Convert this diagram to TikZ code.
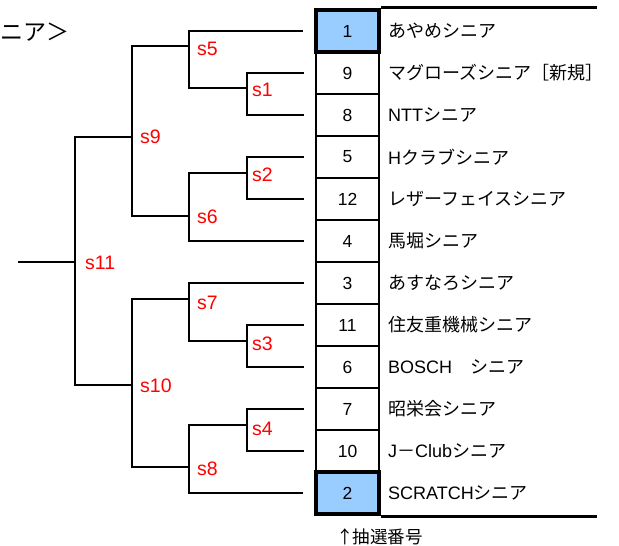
\documentclass[tikz,border=0pt]{standalone}
\usepackage{fontspec}
\setmainfont{Liberation Sans}
\newfontfamily\jpfont{Noto Sans CJK JP}
\definecolor{seedblue}{HTML}{99CCFF}

\begin{document}
\begin{tikzpicture}[x=1pt, y=-1pt,
    numbox/.style={draw, line width=2.7pt, minimum width=63pt, minimum height=42pt, inner sep=0pt, font=\fontsize{17.5}{17.5}\selectfont},
    seedbox/.style={numbox, fill=seedblue, line width=4.5pt},
    team/.style={anchor=west, inner sep=0pt, font=\jpfont\fontsize{18}{18}\selectfont},
    game/.style={anchor=west, inner sep=0pt, text=red, font=\fontsize{19.5}{19.5}\selectfont},
    bracket/.style={line width=1.6pt}]
        \useasboundingbox (0, 0) rectangle (619, 546);

        \node[anchor=west, inner sep=0pt, font=\jpfont\fontsize{23}{23}\selectfont] at (0, 32) (title) {ニア＞};

        % number boxes, one row every 42
        \node[numbox]  at (347.5, 31 + 1 * 42)   (b2)  {9};
        \node[numbox]  at (347.5, 31 + 2 * 42)   (b3)  {8};
        \node[numbox]  at (347.5, 31 + 3 * 42)   (b4)  {5};
        \node[numbox]  at (347.5, 31 + 4 * 42)   (b5)  {12};
        \node[numbox]  at (347.5, 31 + 5 * 42)   (b6)  {4};
        \node[numbox]  at (347.5, 31 + 6 * 42)   (b7)  {3};
        \node[numbox]  at (347.5, 31 + 7 * 42)   (b8)  {11};
        \node[numbox]  at (347.5, 31 + 8 * 42)   (b9)  {6};
        \node[numbox]  at (347.5, 31 + 9 * 42)   (b10) {7};
        \node[numbox]  at (347.5, 31 + 10 * 42)  (b11) {10};
        \node[seedbox] at (347.5, 31 + 0 * 42)   (b1)  {1};
        \node[seedbox] at (347.5, 31 + 11 * 42)  (b12) {2};

        \draw[line width=2.7pt] (b1.north east) -- ++(216, 0);
        \draw[line width=2.7pt] (b12.south east) -- ++(216, 0);

        % team names
        \node[team] at (388, 31 + 0 * 42)   (t1)  {あやめシニア};
        \node[team] at (388, 31 + 1 * 42)   (t2)  {マグローズシニア［新規］};
        \node[team] at (388, 31 + 2 * 42)   (t3)  {{\rmfamily NTT}シニア};
        \node[team] at (388, 31 + 3 * 42)   (t4)  {{\rmfamily H}クラブシニア};
        \node[team] at (388, 31 + 4 * 42)   (t5)  {レザーフェイスシニア};
        \node[team] at (388, 31 + 5 * 42)   (t6)  {馬堀シニア};
        \node[team] at (388, 31 + 6 * 42)   (t7)  {あすなろシニア};
        \node[team] at (388, 31 + 7 * 42)   (t8)  {住友重機械シニア};
        \node[team] at (388, 31 + 8 * 42)   (t9)  {{\rmfamily BOSCH}　シニア};
        \node[team] at (388, 31 + 9 * 42)   (t10) {昭栄会シニア};
        \node[team] at (388, 31 + 10 * 42)  (t11) {{\rmfamily J}－{\rmfamily Club}シニア};
        \node[team] at (388, 31 + 11 * 42)  (t12) {{\rmfamily SCRATCH}シニア};

        \node[team, font=\jpfont\fontsize{17.5}{17.5}\selectfont] at (336, 537) (note) {↑\kern-1pt 抽選番号};

        % leaf ends in front of the boxes
        \coordinate (l1)  at ([xshift=-11pt]b1.west);
        \coordinate (l2)  at ([xshift=-11pt]b2.west);
        \coordinate (l3)  at ([xshift=-11pt]b3.west);
        \coordinate (l4)  at ([xshift=-11pt]b4.west);
        \coordinate (l5)  at ([xshift=-11pt]b5.west);
        \coordinate (l6)  at ([xshift=-11pt]b6.west);
        \coordinate (l7)  at ([xshift=-11pt]b7.west);
        \coordinate (l8)  at ([xshift=-11pt]b8.west);
        \coordinate (l9)  at ([xshift=-11pt]b9.west);
        \coordinate (l10) at ([xshift=-11pt]b10.west);
        \coordinate (l11) at ([xshift=-11pt]b11.west);
        \coordinate (l12) at ([xshift=-11pt]b12.west);

        % match joints
        \coordinate (s1)  at (247, 88);
        \coordinate (s2)  at (247, 173);
        \coordinate (s3)  at (247, 341);
        \coordinate (s4)  at (247, 425);
        \coordinate (s5)  at (189, 46);
        \coordinate (s6)  at (189, 216);
        \coordinate (s7)  at (189, 299);
        \coordinate (s8)  at (189, 467);
        \coordinate (s9)  at (132, 137);
        \coordinate (s10) at (132, 385);
        \coordinate (s11) at (75, 262);
        \coordinate (final) at (18, 262);

        \draw[bracket] (l2) -| (s1) |- (l3);
        \draw[bracket] (l4) -| (s2) |- (l5);
        \draw[bracket] (l8) -| (s3) |- (l9);
        \draw[bracket] (l10) -| (s4) |- (l11);
        \draw[bracket] (l1) -| (s5) |- (s1);
        \draw[bracket] (s2) -| (s6) |- (l6);
        \draw[bracket] (l7) -| (s7) |- (s3);
        \draw[bracket] (s4) -| (s8) |- (l12);
        \draw[bracket] (s5) -| (s9) |- (s6);
        \draw[bracket] (s7) -| (s10) |- (s8);
        \draw[bracket] (s9) -| (s11) |- (s10);
        \draw[bracket] (s11) -- (final);

        % match labels
        \node[game] at (252, 90)   (g1)  {s1};
        \node[game] at (252, 175)  (g2)  {s2};
        \node[game] at (252, 344)  (g3)  {s3};
        \node[game] at (252, 429)  (g4)  {s4};
        \node[game] at (197, 49)   (g5)  {s5};
        \node[game] at (197, 217)  (g6)  {s6};
        \node[game] at (197, 303)  (g7)  {s7};
        \node[game] at (197, 469)  (g8)  {s8};
        \node[game] at (140, 137)  (g9)  {s9};
        \node[game] at (140, 386)  (g10) {s10};
        \node[game] at (85, 263)   (g11) {s11};

    \end{tikzpicture}
\end{document}
